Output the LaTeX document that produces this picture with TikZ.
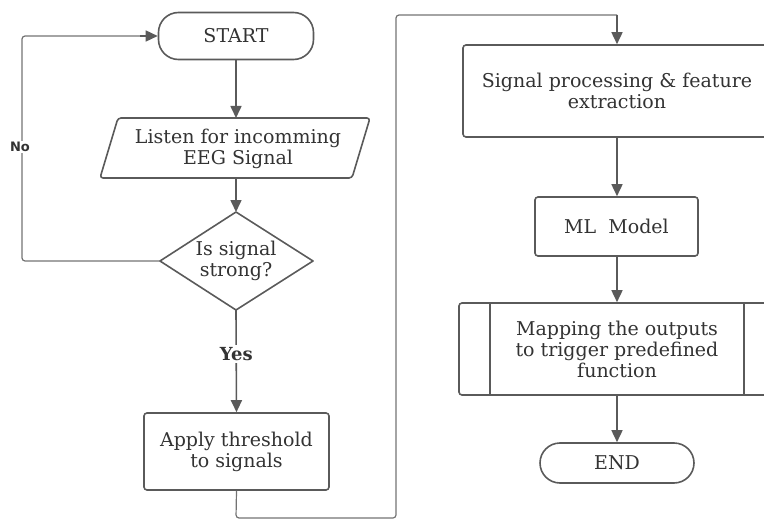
\documentclass[tikz,border=0pt]{standalone}
\usepackage{fontspec}
\setmainfont{DejaVu Serif}
\newfontfamily\labelsans{DejaVu Sans}
\usetikzlibrary{arrows.meta,shapes.geometric,positioning}
\definecolor{linegray}{HTML}{5A5A5A}
\definecolor{textgray}{HTML}{333333}
\tikzset{
  every node/.style={text=textgray, font=\fontsize{19}{21}\selectfont},
  flow/.style={draw=linegray, line width=1.6pt, fill=white},
  procbox/.style={flow, rectangle, rounded corners=3pt, align=center, inner sep=0pt},
  terminal/.style={flow, rectangle, rounded corners=20pt, inner sep=0pt},
  conn/.style={draw=linegray, line width=1.6pt, -{Triangle[length=12pt,width=11pt]}},
  loopline/.style={draw=linegray!85, line width=1.2pt, rounded corners=3pt},
}
\begin{document}
\begin{tikzpicture}[x=1pt,y=-1pt]
\useasboundingbox (0,0) rectangle (764,519);
\clip (0,0) rectangle (764,519);

% left column
\node[terminal, minimum width=155pt, minimum height=47pt] (start) at (236,36) {START};
\draw[flow, line join=round, rounded corners=3pt]
  (118,118) -- (370,118) -- (352,178) -- (100,178) -- cycle;
\node[align=center] (listen) at (238,149) {Listen for incomming\\EEG Signal};
\coordinate (listenN) at (236,118);
\coordinate (listenS) at (236,178);
\draw[flow, line join=round] (236,212) -- (313,261) -- (236,310) -- (160,261) -- cycle;
\node[align=center] (strong) at (236,261) {Is signal\\strong?};
\coordinate (dN) at (236,212);
\coordinate (dS) at (236,310);
\coordinate (dW) at (160,261);
\node[procbox, minimum width=185pt, minimum height=77pt] (apply) at (236.5,451.5) {Apply threshold\\to signals};

% right column
\node[procbox, minimum width=310pt, minimum height=92pt] (sigproc) at (618,91) {};
\node[align=center] at (617,91) {Signal processing \& feature\\extraction};
\node[procbox, minimum width=163pt, minimum height=59pt] (ml) at (616.5,226.5) {ML\ \ Model};
\node[procbox, minimum width=316pt, minimum height=92pt] (mapping) at (617,349) {};
\draw[linegray, line width=1.6pt] (490,303) -- (490,395) (744,303) -- (744,395);
\node[align=center] at (617,349) {Mapping the outputs\\to trigger predefined\\function};
\node[terminal, minimum width=154pt, minimum height=40pt] (end) at (617,463) {END};

% main flow
\draw[conn] (start.south) -- (listenN);
\draw[conn] (listenS) -- (dN);
\draw[conn] (dS) -- node[fill=white, inner sep=2pt, font=\bfseries\fontsize{18}{20}\selectfont, pos=0.43] {Yes} (apply.north);
\draw[loopline] (apply.south) -- (236,518) -- (396,518) -- (396,15) -- (617,15);
\draw[conn] (617,15) -- (sigproc.north -| 617,0);
\draw[conn] (sigproc.south -| 617,0) -- (ml.north -| 617,0);
\draw[conn] (ml.south -| 617,0) -- (mapping.north);
\draw[conn] (mapping.south) -- (end.north);

% retry loop
\draw[loopline] (dW) -- (22,261) -- (22,36) -- (140,36);
\draw[conn] (140,36) -- (start.west);
\node[fill=white, inner sep=1pt, font=\labelsans\bfseries\fontsize{13}{15}\selectfont] at (20,147) {No};
\end{tikzpicture}
\end{document}
